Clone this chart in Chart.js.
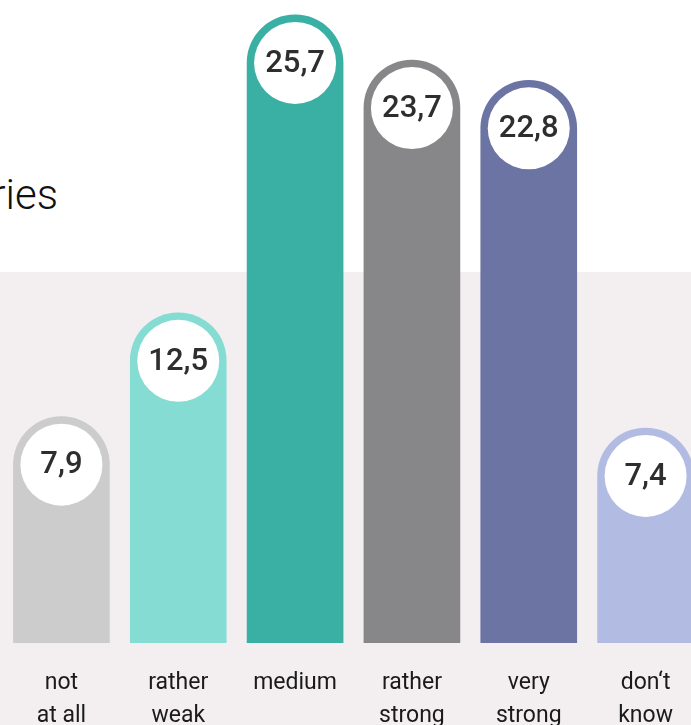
<!DOCTYPE html>
<html>
<head>
<meta charset="utf-8">
<script src="https://cdn.jsdelivr.net/npm/chart.js@4.4.1/dist/chart.umd.min.js"></script>
<style>
  html, body { margin: 0; padding: 0; }
  body { width: 691px; height: 725px; overflow: hidden; position: relative; background: #ffffff; }
  #band { position: absolute; left: 0; top: 272px; width: 691px; height: 460px; background: #f3eff1; }
  #title { position: absolute; right: 633px; top: 170px; font: 300 42px "Liberation Sans Narrow", "Roboto", sans-serif; color: #111; white-space: nowrap; }
  #wrap { position: absolute; left: 3px; top: 0; width: 701px; height: 757px; }
</style>
</head>
<body>
<div id="band"></div>
<div id="title">ries</div>
<div id="wrap"><canvas id="chart"></canvas></div>
<script>
// values
const categories = [["not", "at all"], ["rather", "weak"], ["medium"], ["rather", "strong"], ["very", "strong"], ["don\u2018t", "know"]];
const shares = [7.9, 12.5, 25.7, 23.7, 22.8, 7.4];
const barColors = ["#cccccc", "#84dcd2", "#3aafa4", "#878789", "#6b74a3", "#b2bce3"];

const LABEL_FONT = '"Liberation Sans Narrow", "Roboto", sans-serif';

// value sits in the middle of the round cap, so lift each bar by its half width
const capPlugin = {
  id: "cap",
  afterDatasetsUpdate(chart) {
    chart.getDatasetMeta(0).data.forEach(bar => {
      bar.y = bar.y - bar.width / 2;
    });
  },
  afterDatasetsDraw(chart) {
    const ctx = chart.ctx;
    const yScale = chart.scales.y;
    chart.getDatasetMeta(0).data.forEach((bar, i) => {
      const cy = yScale.getPixelForValue(shares[i]);
      ctx.save();
      ctx.beginPath();
      ctx.arc(bar.x, cy, 41, 0, Math.PI * 2);
      ctx.fillStyle = "#ffffff";
      ctx.fill();
      ctx.fillStyle = "#2e2e2e";
      ctx.font = '500 31px "Roboto", sans-serif';
      ctx.textAlign = "center";
      ctx.textBaseline = "middle";
      ctx.fillText(shares[i].toFixed(1).replace(".", ","), bar.x, cy + 1);
      ctx.restore();
    });
  }
};

new Chart(document.getElementById("chart"), {
  type: "bar",
  data: {
    labels: categories,
    datasets: [{
      data: shares,
      backgroundColor: barColors,
      barThickness: 96,
      borderRadius: { topLeft: 48, topRight: 48, bottomLeft: 0, bottomRight: 0 },
      borderSkipped: "start"
    }]
  },
  options: {
    responsive: true,
    maintainAspectRatio: false,
    animation: false,
    layout: { padding: { top: 11, left: 0, right: 0, bottom: 0 } },
    plugins: { legend: { display: false }, tooltip: { enabled: false } },
    scales: {
      x: {
        grid: { display: false, drawTicks: false },
        border: { display: false },
        ticks: {
          color: "#1a1a1a",
          padding: 24,
          maxRotation: 0,
          autoSkip: false,
          font: { family: LABEL_FONT, size: 23, lineHeight: "33px" }
        }
      },
      y: {
        display: false,
        min: 0,
        max: 28
      }
    }
  },
  plugins: [capPlugin]
});
</script>
</body>
</html>
